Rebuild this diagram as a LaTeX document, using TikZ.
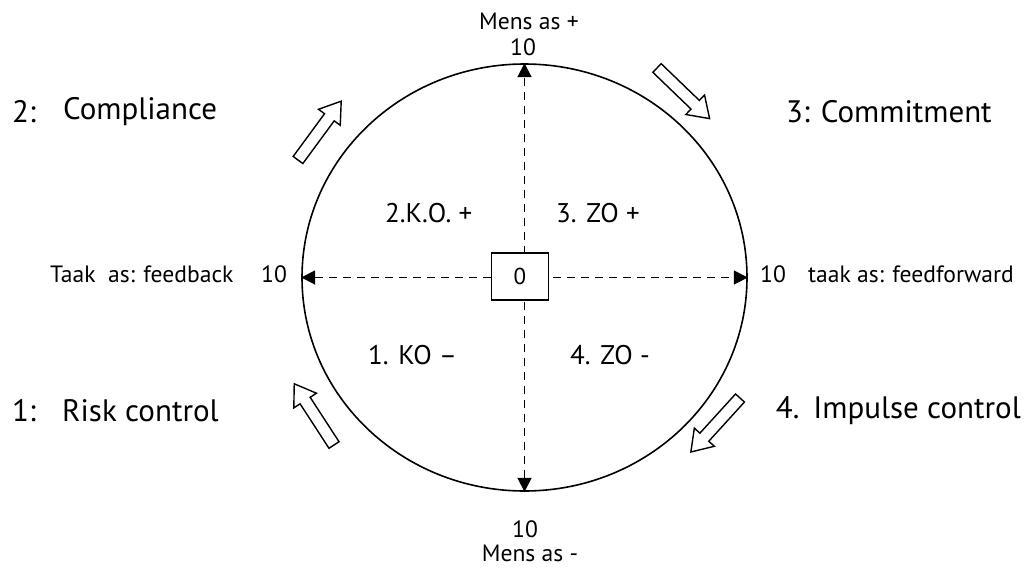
\documentclass[tikz,border=0pt]{standalone}
\usepackage{fontspec}
\setmainfont{PT Sans}
\usetikzlibrary{arrows.meta,shapes.geometric}
\tikzset{
  big/.style={font=\fontsize{31}{34}\selectfont, inner sep=0pt},
  mid/.style={font=\fontsize{27}{30}\selectfont, inner sep=0pt},
  small/.style={font=\fontsize{23.6}{26}\selectfont, inner sep=0pt},
  axis/.style={line width=1.8pt, dash pattern=on 8pt off 6pt,
    {Triangle[length=14pt,width=14pt]}-{Triangle[length=14pt,width=14pt]}},
  blockarrow/.pic={\draw[line width=1.4pt, fill=white, line join=miter]
    (0,-6) -- (53,-6) -- (53,-13.5) -- (73,0) -- (53,13.5) -- (53,6) -- (0,6) -- cycle;}
}
\begin{document}
\begin{tikzpicture}[x=1pt,y=-1pt]
\useasboundingbox (0,0) rectangle (1026,568);
\node[draw, ellipse, line width=1.6pt, minimum width=445pt, minimum height=427pt, inner sep=0pt] (circ) at (524.5,277.5) {};
\draw[axis] (circ.south) -- (circ.north);
\draw[axis] (circ.west) -- (circ.east);
\node[draw, fill=white, line width=1.6pt, minimum width=57pt, minimum height=47pt, inner sep=0pt, font=\fontsize{23}{25}\selectfont] (zero) at (520,276.5) {0};

% top / bottom labels
\node[small] (mensplus) at (529,21) {Mens as +};
\node[small] (toptop) at (523,47) {10};
\node[small] (botten) at (525,529) {10};
\node[small] (mensmin) at (530,553) {Mens as -};

% left / right labels
\node[small, anchor=west] (feedback) at (50,274) {Taak\ \ as: feedback};
\node[small] (leftten) at (274,274) {10};
\node[small] (rightten) at (773,274) {10};
\node[small, anchor=west] (feedforward) at (808,274) {taak as: feedforward};

% quadrant labels
\node[mid, anchor=west] (ko2) at (385,213) {2.K.O. +};
\node[mid, anchor=west] (zo3) at (556,213) {3. ZO +};
\node[mid, anchor=west] (ko1) at (368,355) {1. KO --};
\node[mid, anchor=west] (zo4) at (570,355) {4. ZO -};

% corner labels
\node[big, anchor=west] (n2) at (12,112) {2:};
\node[big, anchor=west] (compliance) at (63,112) {Compliance};
\node[big, anchor=west] (commitment) at (786,112) {3: Commitment};
\node[big, anchor=west] (n1) at (12,411) {1:};
\node[big, anchor=west] (risk) at (62,411) {Risk control};
\node[big, anchor=east] (impulse) at (1021,411) {4.\hspace{0.45em}Impulse control};

% block arrows
\pic[rotate=53.7] at (298,160) {blockarrow};
\pic[rotate=-43.9] at (657,68) {blockarrow};
\pic[rotate=-132.3] at (740,398) {blockarrow};
\pic[rotate=123] at (334,445) {blockarrow};
\end{tikzpicture}
\end{document}
